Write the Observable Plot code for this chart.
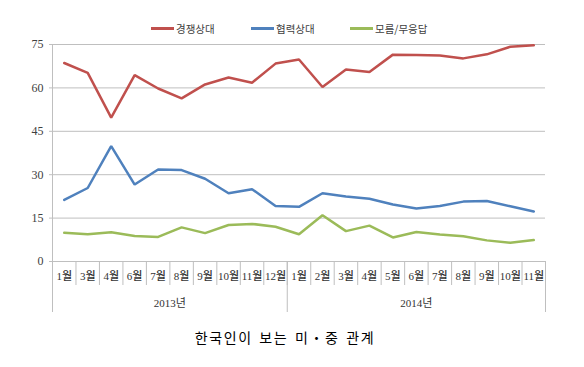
<!DOCTYPE html>
<html>
<head>
<meta charset="utf-8">
<script src="https://cdn.jsdelivr.net/npm/d3@7"></script>
<script src="https://cdn.jsdelivr.net/npm/@observablehq/plot@0.6"></script>
<style>
  body { margin: 0; background: #fff; }
  #wrap { position: relative; width: 584px; height: 367px; }
  .leg { position: absolute; top: 21px; height: 15px; display: flex; align-items: center;
         font-family: "Noto Sans CJK KR", sans-serif; font-size: 10.5px; color: #404040; }
  .leg i { display: inline-block; width: 23px; height: 2.5px; margin-right: 2px; }
  #chart { position: absolute; left: 0; top: 36px; }
  #caption { position: absolute; top: 327px; left: 0; width: 570px; text-align: center;
             font-family: "Noto Sans CJK KR", sans-serif; font-size: 14px; letter-spacing: 1.6px; word-spacing: 2px; color: #000; }
</style>
</head>
<body>
<div id="wrap">
  <div class="leg" style="left:151px"><i style="background:#c0504d"></i>경쟁상대</div>
  <div class="leg" style="left:251px"><i style="background:#4f81bd"></i>협력상대</div>
  <div class="leg" style="left:350px"><i style="background:#9bbb59"></i>모름/무응답</div>
  <div id="chart"></div>
  <div id="caption">한국인이 보는 미・중 관계</div>
</div>
<script>
const months = ["1월","3월","4월","6월","7월","8월","9월","10월","11월","12월",
                "1월","2월","3월","4월","5월","6월","7월","8월","9월","10월","11월"];
const years = ["2013년","2013년","2013년","2013년","2013년","2013년","2013년","2013년","2013년","2013년",
               "2014년","2014년","2014년","2014년","2014년","2014년","2014년","2014년","2014년","2014년","2014년"];
const competition = [68.6,65.2,49.7,64.4,59.8,56.4,61.2,63.6,61.8,68.4,69.8,60.3,66.4,65.5,71.5,71.4,71.2,70.2,71.6,74.2,74.7];
const cooperation = [21.3,25.4,39.9,26.6,31.8,31.6,28.6,23.6,25.0,19.2,18.9,23.6,22.5,21.7,19.7,18.3,19.2,20.7,20.9,19.1,17.3];
const unknown     = [9.9,9.4,10.1,8.8,8.5,11.8,9.8,12.6,13.0,12.0,9.4,16.0,10.5,12.4,8.3,10.2,9.3,8.7,7.3,6.5,7.4];
const seriesNames = ["경쟁상대","협력상대","모름/무응답"];
const seriesColors = ["#c0504d","#4f81bd","#9bbb59"];
const yTicks = [0,15,30,45,60,75];

const idx = months.map((_, i) => i);
const rows = [];
[competition, cooperation, unknown].forEach((arr, s) =>
  arr.forEach((v, i) => rows.push({i, v, series: seriesNames[s]})));

const monthBounds = idx.map(i => i - 0.5).concat([months.length - 0.5]);
const yearNames = Array.from(new Set(years));
const yearBounds = [-0.5];
const yearCenters = [];
yearNames.forEach(y => {
  const ii = idx.filter(i => years[i] === y);
  yearBounds.push(ii[ii.length - 1] + 0.5);
  yearCenters.push((ii[0] + ii[ii.length - 1]) / 2);
});

const gray = "#bfbfbf";
const chart = Plot.plot({
  width: 584, height: 276,
  marginTop: 8, marginLeft: 52, marginRight: 39, marginBottom: 51,
  style: {fontFamily: "'Liberation Serif', 'Noto Sans CJK KR', serif", fontSize: "11px", color: "#404040", background: "transparent"},
  x: {type: "linear", domain: [-0.5, months.length - 0.5], axis: null, label: null},
  y: {domain: [0, 75], axis: null, label: null},
  color: {domain: seriesNames, range: seriesColors},
  marks: [
    Plot.gridY(yTicks, {stroke: gray, strokeOpacity: 1, strokeWidth: 1}),
    Plot.axisY({ticks: yTicks, label: null, tickSize: 3, tickPadding: 6, stroke: gray, strokeOpacity: 1, fill: "#404040", fontSize: 12}),
    Plot.ruleX([-0.5], {stroke: gray, strokeWidth: 1}),
    Plot.axisX({ticks: monthBounds, label: null, tickSize: 24, tickFormat: () => "", stroke: gray, strokeOpacity: 1}),
    Plot.axisX({ticks: yearBounds, label: null, tickSize: 51, tickFormat: () => "", stroke: gray, strokeOpacity: 1}),
    Plot.axisX({ticks: idx, label: null, tickSize: 0, tickPadding: 11, tickFormat: i => months[i], fill: "#333", fontSize: 11, fontWeight: 500}),
    Plot.axisX({ticks: yearCenters, label: null, tickSize: 0, tickPadding: 38, tickFormat: (d, k) => yearNames[k], fill: "#333", fontSize: 11}),
    Plot.lineY(rows, {x: "i", y: "v", z: "series", stroke: "series", strokeWidth: 2.5, strokeLinejoin: "miter"})
  ]
});
document.getElementById("chart").appendChild(chart);
</script>
</body>
</html>
